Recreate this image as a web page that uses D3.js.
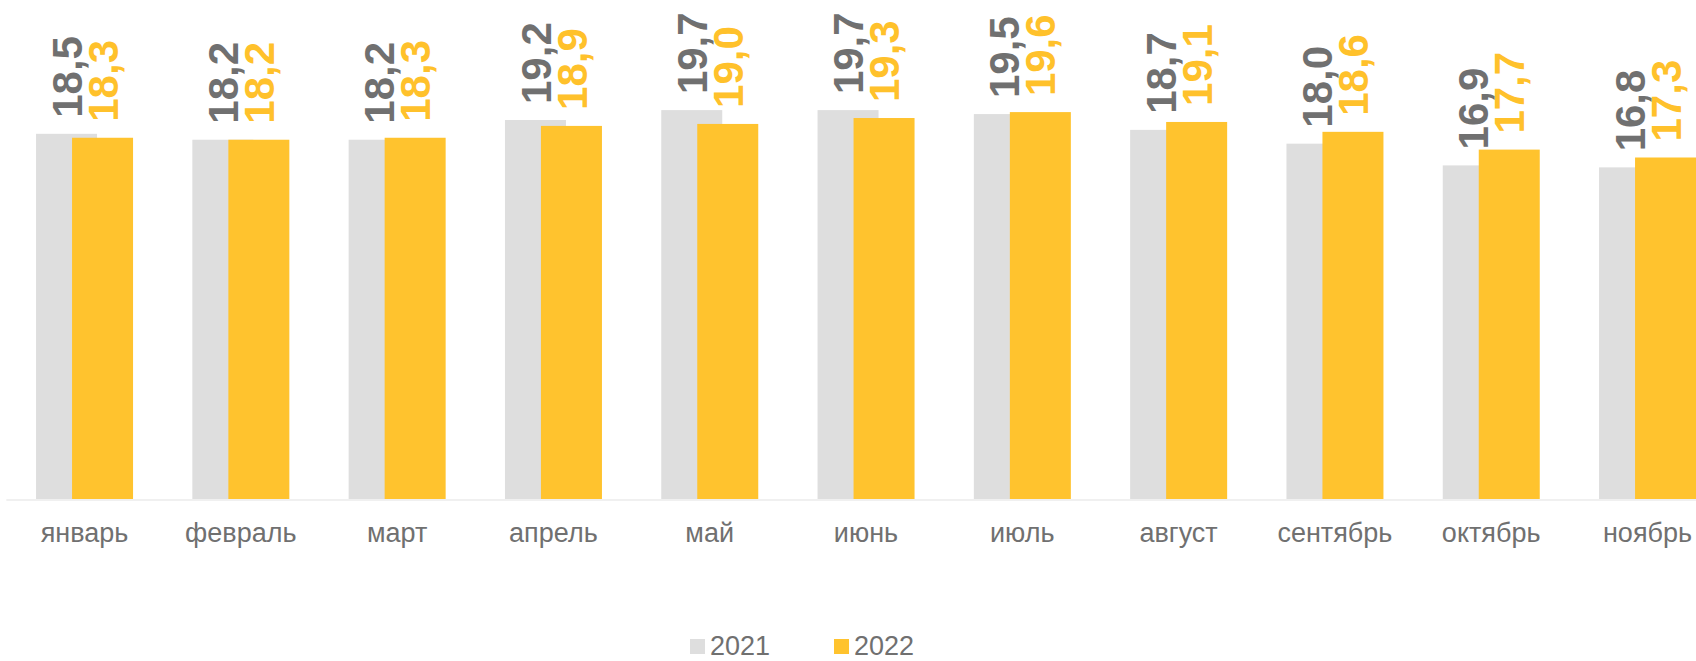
<!DOCTYPE html>
<html>
<head>
<meta charset="utf-8">
<script src="https://cdn.jsdelivr.net/npm/d3@7"></script>
<style>
  html, body { margin: 0; padding: 0; background: #fff; overflow: hidden; }
  svg { display: block; }
</style>
</head>
<body>
<script>
// data
var months = ["январь", "февраль", "март", "апрель", "май", "июнь", "июль", "август", "сентябрь", "октябрь", "ноябрь"];
var values_2021 = [18.5, 18.2, 18.2, 19.2, 19.7, 19.7, 19.5, 18.7, 18.0, 16.9, 16.8];
var values_2022 = [18.3, 18.2, 18.3, 18.9, 19.0, 19.3, 19.6, 19.1, 18.6, 17.7, 17.3];
var series_names = ["2021", "2022"];
var bar_colors = ["#dedede", "#ffc32e"];
var label_colors = ["#707070", "#ffc12b"];

var chart = (function(){
  var svg,
      w = 1696,
      h = 661,
      base_y = 499,
      step = 156.3,
      left = 6.35,
      bar_w = 61,
      font = "'Liberation Sans', Arial, sans-serif";

  var x, xs, y;

  function chart(){
    init_scales();
    init();
  }

  function init_scales(){
    // the original plot is wider than the picture, so the range runs past the right edge
    x = d3.scaleBand()
        .domain(months)
        .range([left, left + step * months.length])
        .paddingInner(0)
        .paddingOuter(0);

    xs = d3.scalePoint()
        .domain(series_names)
        .range([29.7, 65.7]);

    y = d3.scaleLinear()
        .domain([0, 25])
        .range([base_y, base_y - 25 * 19.74]);
  }

  function fmt(v){
    return d3.format(".1f")(v).replace(".", ",");
  }

  function init(){
    svg = d3.select("body").append("svg")
        .attr("width", w)
        .attr("height", h);

    var rows = [];
    series_names.forEach(function(s, si){
      var vals = si === 0 ? values_2021 : values_2022;
      months.forEach(function(m, i){
        rows.push({ month: m, series: s, si: si, value: vals[i] });
      });
    });

    svg.selectAll("rect.bar")
        .data(rows)
        .enter()
        .append("rect")
        .attr("class", "bar")
        .attr("x", function(d){ return x(d.month) + xs(d.series); })
        .attr("y", function(d){ return y(d.value); })
        .attr("width", bar_w)
        .attr("height", function(d){ return y(0) - y(d.value); })
        .attr("fill", function(d){ return bar_colors[d.si]; });

    // baseline
    svg.append("line")
        .attr("x1", left)
        .attr("x2", w)
        .attr("y1", y(0) + 1)
        .attr("y2", y(0) + 1)
        .attr("stroke", "#f0f0f0")
        .attr("stroke-width", 2);

    // value labels, rotated
    svg.selectAll("text.val")
        .data(rows)
        .enter()
        .append("text")
        .attr("class", "val")
        .attr("transform", function(d){
          var cx = x(d.month) + xs(d.series) + bar_w / 2;
          return "translate(" + cx + "," + (y(d.value) - 16) + ") rotate(-90)";
        })
        .attr("dy", "0.36em")
        .attr("text-anchor", "start")
        .attr("font-family", font)
        .attr("font-weight", "bold")
        .attr("font-size", "42px")
        .attr("fill", function(d){ return label_colors[d.si]; })
        .text(function(d){ return fmt(d.value); });

    // category axis
    var xAxis = d3.axisBottom(x).tickSize(0).tickPadding(0);
    var gx = svg.append("g")
        .attr("transform", "translate(0," + 542 + ")")
        .call(xAxis);
    gx.select(".domain").remove();
    gx.selectAll("text")
        .attr("dy", 0)
        .attr("y", 0)
        .attr("font-family", font)
        .attr("font-size", "27px")
        .attr("fill", "#707070");

    // legend (sits at the very bottom, as in the original)
    var legend = svg.selectAll("g.legend")
        .data(series_names)
        .enter()
        .append("g")
        .attr("class", "legend")
        .attr("transform", function(d, i){ return "translate(" + (690 + i * 144) + ",639)"; });

    legend.append("rect")
        .attr("width", 15)
        .attr("height", 15)
        .attr("fill", function(d, i){ return bar_colors[i]; });

    legend.append("text")
        .attr("x", 20)
        .attr("y", 16)
        .attr("font-family", font)
        .attr("font-size", "27px")
        .attr("fill", "#707070")
        .text(function(d){ return d; });
  }

  return chart;
})();

chart();
</script>
</body>
</html>
